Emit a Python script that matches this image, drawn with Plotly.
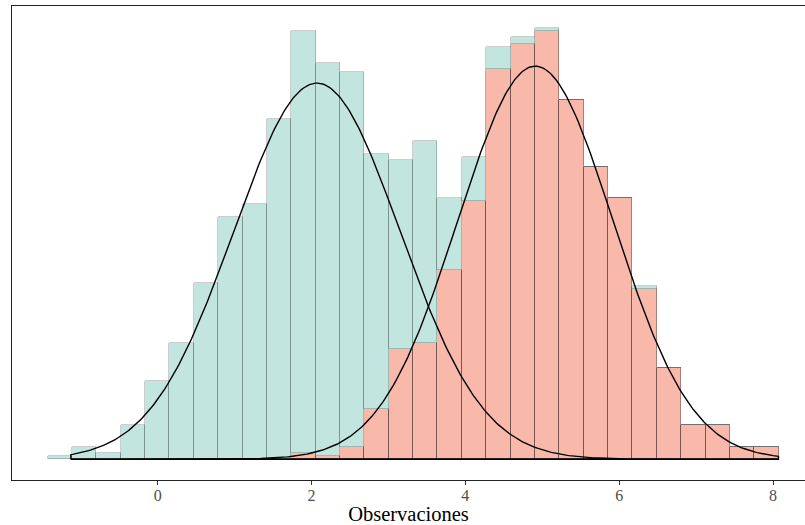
import numpy as np
import plotly.graph_objects as go

# Histogram bins (shared by both groups)
bin_start = -1.431
bin_width = 0.3168
# counts per bin, group B (salmon, bottom of stack)
counts_b = [0, 0, 0, 0, 0, 0, 0, 0, 0, 0,
            2, 1, 4, 16, 35, 37, 60, 82, 124, 132,
            136, 114, 93, 83, 54, 29, 11, 11, 4, 4]
# counts per bin, group A (teal, stacked on top)
counts_a = [1, 4, 2, 11, 25, 37, 56, 77, 81, 108,
            134, 125, 119, 81, 60, 64, 23, 14, 7, 2,
            1, 0, 0, 0, 1, 0, 0, 0, 0, 0]

# fitted normal curves
curve_x_min, curve_x_max = -1.128, 8.07
mean_a, sd_a, peak_a = 2.07, 1.08, 119.5
mean_b, sd_b, peak_b = 4.91, 1.01, 124.9

tick_vals = [0, 2, 4, 6, 8]
x_title = "Observaciones"

centers = [bin_start + bin_width * (i + 0.5) for i in range(len(counts_a))]

fig = go.Figure()
fig.add_trace(go.Bar(x=centers, y=counts_b, width=bin_width,
                     marker=dict(color="#F8B8AA", line=dict(color="rgba(0,0,0,0.45)", width=0.7)),
                     showlegend=False))
fig.add_trace(go.Bar(x=centers, y=counts_a, width=bin_width,
                     marker=dict(color="#C3E5DF", line=dict(color="rgba(0,0,0,0.28)", width=0.7)),
                     showlegend=False))

xs = np.linspace(curve_x_min, curve_x_max, 400)
for m, s, p in [(mean_a, sd_a, peak_a), (mean_b, sd_b, peak_b)]:
    ys = p * np.exp(-0.5 * ((xs - m) / s) ** 2)
    px = [curve_x_min] + list(xs) + [curve_x_max, curve_x_min]
    py = [0] + list(ys) + [0, 0]
    fig.add_trace(go.Scatter(x=px, y=py, mode="lines",
                             line=dict(color="black", width=1.4),
                             showlegend=False, hoverinfo="skip"))

fig.update_layout(
    width=805, height=525,
    margin=dict(l=12, r=0, t=6, b=45),
    barmode="stack", bargap=0,
    plot_bgcolor="white", paper_bgcolor="white",
    font=dict(family="Liberation Serif", color="#4D4D4D"),
)
fig.update_xaxes(range=[-1.893, 8.415], tickvals=tick_vals,
                 showgrid=False, zeroline=False,
                 showline=True, linecolor="#222", linewidth=1, mirror=True,
                 ticks="outside", ticklen=4, tickcolor="#333", tickwidth=1,
                 ticklabelstandoff=-3,
                 tickfont=dict(size=16, color="#4D4D4D", family="Liberation Serif"),
                 title=dict(text=x_title, standoff=7,
                            font=dict(size=20.5, color="black", family="Liberation Serif")),
                 automargin=False)
fig.update_yaxes(range=[-6.57, 144.0], showgrid=False, zeroline=False,
                 showticklabels=False, ticks="",
                 showline=True, linecolor="#222", linewidth=1, mirror=False)

fig.write_html("out.html", config={"displayModeBar": False},
               post_script="document.body.style.margin='0';document.body.style.overflow='hidden';")
